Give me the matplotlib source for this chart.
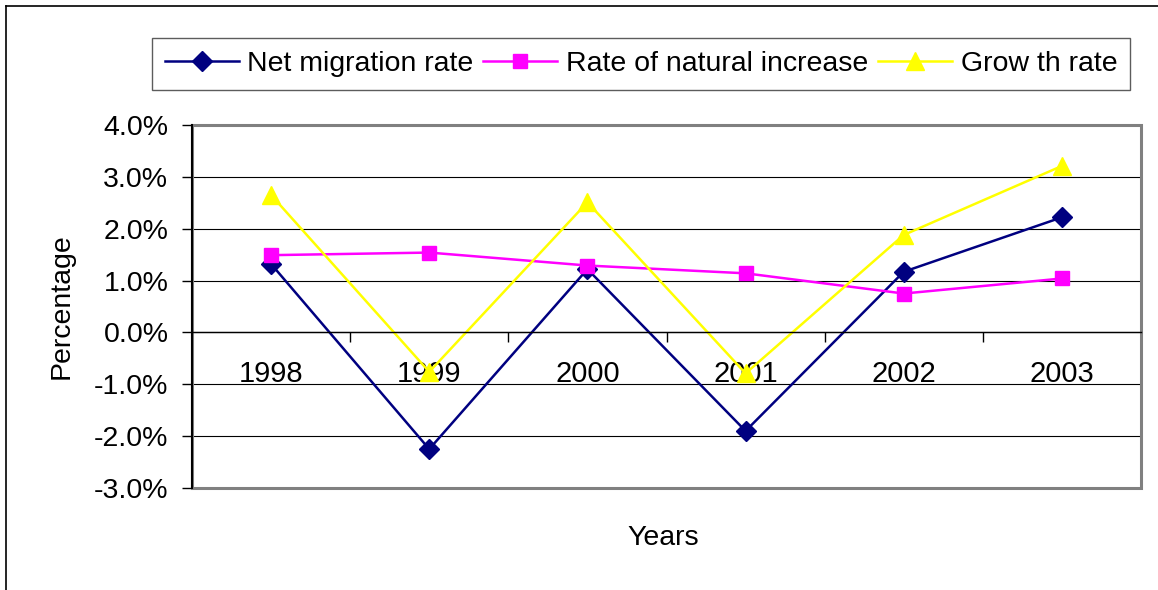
import matplotlib
matplotlib.use("Agg")
import matplotlib.pyplot as plt
from matplotlib.lines import Line2D
from matplotlib.patches import Rectangle
from matplotlib.ticker import FuncFormatter

plt.rcParams['font.family'] = ['Liberation Sans', 'DejaVu Sans']

years = ['1998', '1999', '2000', '2001', '2002', '2003']
net_migration = [1.32, -2.25, 1.22, -1.90, 1.17, 2.22]
natural_increase = [1.49, 1.54, 1.29, 1.14, 0.75, 1.04]
growth_rate = [2.65, -0.76, 2.51, -0.79, 1.88, 3.21]

W, H = 1158, 590
fig = plt.figure(figsize=(W / 100, H / 100), dpi=100)
ax = fig.add_axes([192 / W, 1 - 488 / H, (1141 - 192) / W, (488 - 125) / H])

x = list(range(len(years)))
ax.plot(x, net_migration, color='#000080', lw=1.8, marker='D', ms=10,
        label='Net migration rate')
ax.plot(x, natural_increase, color='#FF00FF', lw=1.8, marker='s', ms=10.5,
        label='Rate of natural increase')
ax.plot(x, growth_rate, color='#FFFF00', lw=1.8, marker='^', ms=13,
        label='Grow th rate')

ax.set_xlim(-0.5, 5.5)
ax.set_ylim(-3, 4)
ax.set_yticks(range(-3, 5))
ax.yaxis.set_major_formatter(FuncFormatter(lambda v, p: f'{v:.1f}%'))
ax.yaxis.grid(True, color='black', lw=0.8)
ax.set_axisbelow(True)

# x axis sits on the zero line, like Excel
ax.spines['bottom'].set_position(('data', 0))
ax.spines['bottom'].set_color('black')
ax.spines['bottom'].set_linewidth(1.0)
ax.set_xticks(x)
ax.set_xticklabels(years)
ax.set_xticks([i - 0.5 for i in range(len(years) + 1)], minor=True)
ax.tick_params(axis='x', which='major', length=0, pad=20, labelsize=21)
ax.tick_params(axis='x', which='minor', length=7, width=1, direction='out')
ax.tick_params(axis='y', length=7, width=1, pad=10, labelsize=20.5)

for s in ['top', 'right']:
    ax.spines[s].set_visible(False)
ax.spines['left'].set_color('black')
ax.spines['left'].set_linewidth(1.5)
ax.add_patch(Rectangle((0, 0), 1, 1, transform=ax.transAxes, fill=False,
                       edgecolor='#808080', lw=2.2, clip_on=False, zorder=1.5))

ax.set_ylabel('Percentage', fontsize=20.5, labelpad=14)
fig.text(663 / W, 1 - 538 / H, 'Years', fontsize=20.5, ha='center', va='center')

leg = fig.legend(loc='center', bbox_to_anchor=(641 / W, 1 - 64 / H), ncol=3,
                 fontsize=20.5, frameon=True, fancybox=False, handlelength=2.6,
                 columnspacing=0.35, handletextpad=0.3, borderpad=0.45,
                 borderaxespad=0)
leg.get_frame().set_edgecolor('#333333')
leg.get_frame().set_linewidth(1.0)

# outer chart border (top and left only visible)
fig.add_artist(Line2D([6 / W, 1], [1 - 6 / H, 1 - 6 / H], color='black', lw=1.2))
fig.add_artist(Line2D([6 / W, 6 / W], [0, 1 - 6 / H], color='black', lw=1.2))

fig.savefig('out.png', dpi=100)
